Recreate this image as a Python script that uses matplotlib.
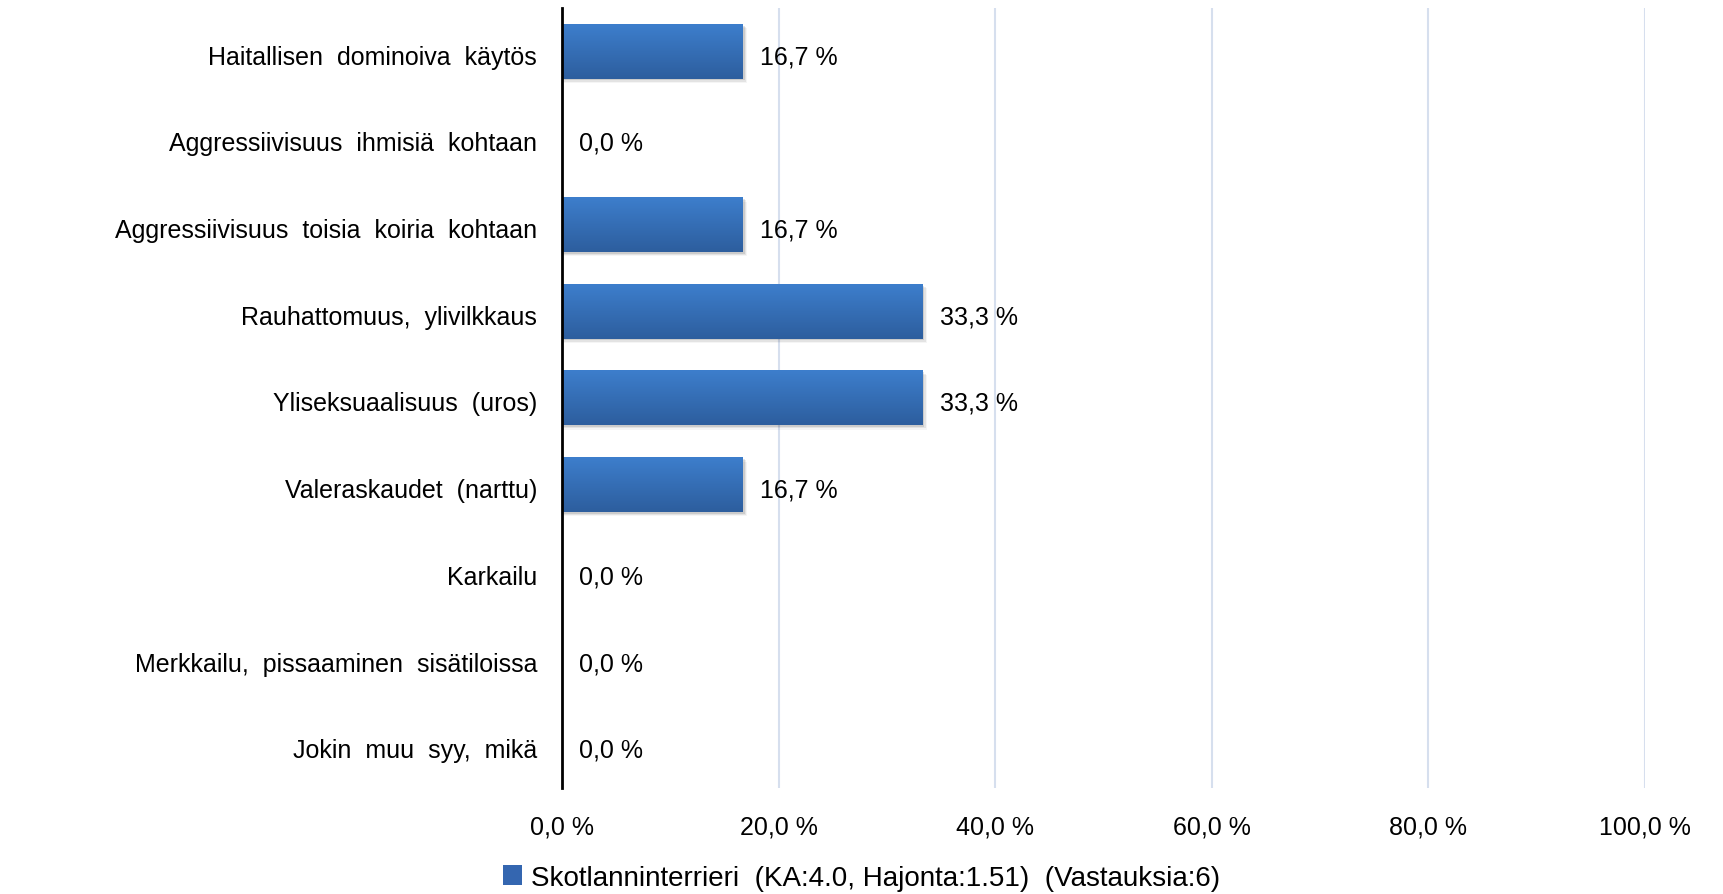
import numpy as np
from matplotlib import pyplot as plt
import matplotlib.patches as patches
import matplotlib.transforms as mtransforms
from matplotlib.colors import LinearSegmentedColormap

categories = ["Haitallisen  dominoiva  käytös",
              "Aggressiivisuus  ihmisiä  kohtaan",
              "Aggressiivisuus  toisia  koiria  kohtaan",
              "Rauhattomuus,  ylivilkkaus",
              "Yliseksuaalisuus  (uros)",
              "Valeraskaudet  (narttu)",
              "Karkailu",
              "Merkkailu,  pissaaminen  sisätiloissa",
              "Jokin  muu  syy,  mikä"]
values = [16.7, 0.0, 16.7, 33.3, 33.3, 16.7, 0.0, 0.0, 0.0]
ticks = [0, 20, 40, 60, 80, 100]
series_name = "Skotlanninterrieri  (KA:4.0, Hajonta:1.51)  (Vastauksia:6)"

plt.rcParams['font.family'] = ['Liberation Sans', 'DejaVu Sans']

fig = plt.figure(figsize=(17.23, 8.95), dpi=100)
ax = fig.add_axes([0.3262, 0.1184, 0.6285, 0.8716])

n = len(categories)
ypos = np.arange(n)
h = 0.63
cmap = LinearSegmentedColormap.from_list('bar', ['#3D7ECC', '#2D5E9E'])
grad = np.linspace(0, 1, 64).reshape(-1, 1)

for y, v in zip(ypos, values):
    if v > 0:
        # soft shadow under the bar
        for k, a in enumerate([0.10, 0.07, 0.04]):
            off = 0.02 + k * 0.015
            sh = patches.Rectangle((0, y - h / 2 + off), v + 0.15 + k * 0.12, h,
                                   facecolor='#000000', alpha=a, edgecolor='none', zorder=2)
            ax.add_patch(sh)
        ax.imshow(grad, extent=[0, v, y + h / 2, y - h / 2], cmap=cmap,
                  aspect='auto', zorder=3, interpolation='bicubic')
    ax.annotate(f"{v:.1f} %".replace('.', ','), xy=(v, y), xytext=(17, -5),
                textcoords='offset pixels', va='center', ha='left', fontsize=18)

ax.set_xlim(0, 100)
ax.set_ylim(n - 0.5, -0.5)
ax.set_yticks(ypos)
ax.set_yticklabels(categories, fontsize=18)
ax.set_xticks(ticks)
ax.set_xticklabels([f"{t:.1f} %".replace('.', ',') for t in ticks], fontsize=18)
ax.tick_params(axis='y', length=0, pad=18)
ax.tick_params(axis='x', length=0, pad=19)

shift = mtransforms.ScaledTranslation(0, -3 / 100, fig.dpi_scale_trans)
for lab in ax.get_yticklabels():
    lab.set_transform(lab.get_transform() + shift)

for t in ticks[1:]:
    ax.axvline(t, color='#D6DFEE', linewidth=1.5, zorder=1)
for s in ['top', 'right', 'bottom']:
    ax.spines[s].set_visible(False)
ax.spines['left'].set_linewidth(2)
ax.spines['left'].set_zorder(5)

handle = patches.Patch(facecolor='#3466B0', edgecolor='none')
fig.legend([handle], [series_name], loc='center', bbox_to_anchor=(0.5, 0.018),
           frameon=False, handlelength=0.7, handleheight=0.7, handletextpad=0.3,
           prop={'size': 20})

plt.savefig('out.png', dpi=100)
